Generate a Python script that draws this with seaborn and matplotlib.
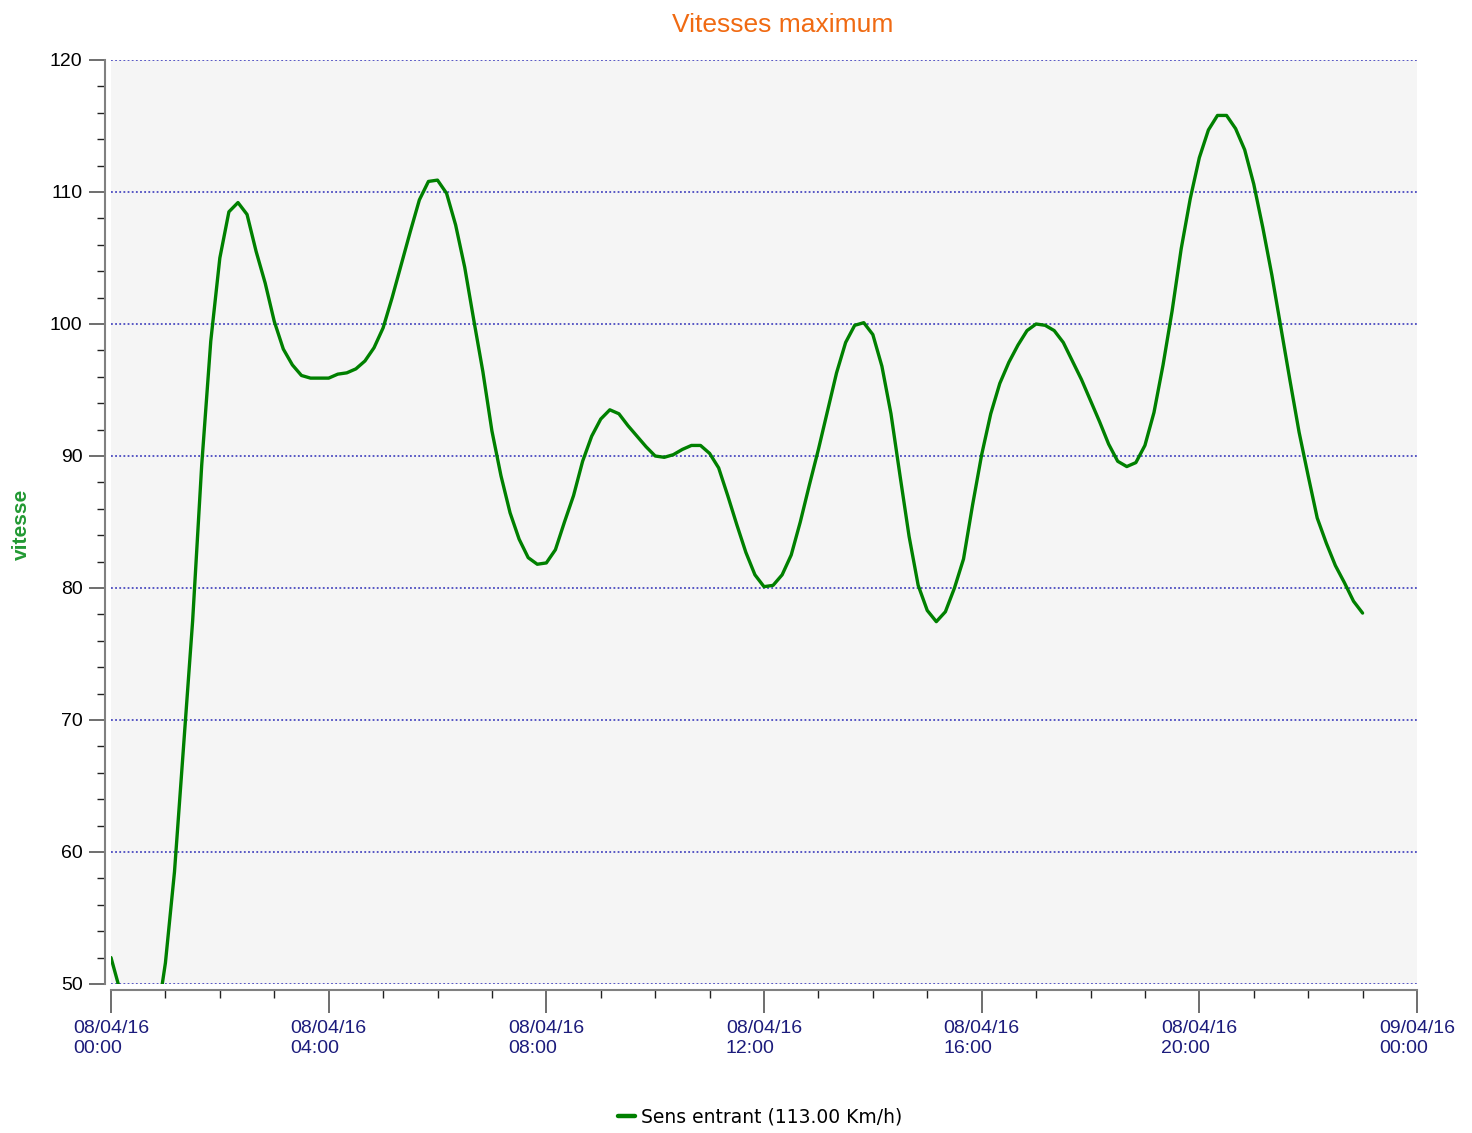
import matplotlib
matplotlib.use("Agg")
import matplotlib.pyplot as plt
import matplotlib.dates as mdates
from matplotlib.ticker import MultipleLocator
import pandas as pd
import seaborn as sns

# vitesse max par pas de 10 minutes, 08/04/16 00:00 -> 23:00
vitesse = [
    52.0, 49.5, 46.0, 44.0, 44.0, 47.0, 51.6, 58.5, 68.0, 77.5,
    89.3, 98.7, 105.0, 108.5, 109.2, 108.3, 105.5, 103.1, 100.2, 98.1,
    96.9, 96.1, 95.9, 95.9, 95.9, 96.2, 96.3, 96.6, 97.2, 98.2,
    99.7, 102.0, 104.5, 107.0, 109.4, 110.8, 110.9, 109.9, 107.5, 104.3,
    100.3, 96.4, 91.9, 88.5, 85.7, 83.7, 82.3, 81.8, 81.9, 82.9,
    85.0, 87.0, 89.6, 91.5, 92.8, 93.5, 93.2, 92.3, 91.5, 90.7,
    90.0, 89.9, 90.1, 90.5, 90.8, 90.8, 90.2, 89.1, 87.0, 84.8,
    82.7, 81.0, 80.1, 80.2, 81.0, 82.5, 85.0, 87.8, 90.5, 93.4,
    96.3, 98.6, 99.9, 100.1, 99.2, 96.8, 93.2, 88.5, 83.9, 80.2,
    78.3, 77.45, 78.2, 80.0, 82.2, 86.3, 90.1, 93.2, 95.5, 97.1,
    98.4, 99.5, 100.0, 99.9, 99.5, 98.6, 97.2, 95.8, 94.2, 92.6,
    90.9, 89.6, 89.2, 89.5, 90.8, 93.3, 96.9, 101.0, 105.7, 109.5,
    112.6, 114.7, 115.8, 115.8, 114.8, 113.2, 110.6, 107.3, 103.7, 99.7,
    95.7, 91.8, 88.5, 85.3, 83.4, 81.7, 80.4, 79.0, 78.1,
]
debut = "2016-04-08 00:00"
fin = "2016-04-09 00:00"
serie = "Sens entrant (113.00 Km/h)"

df = pd.DataFrame({
    "heure": pd.date_range(debut, periods=len(vitesse), freq="10min"),
    "vitesse": vitesse,
})

sns.set_style("white")
plt.rcParams["font.family"] = ["Liberation Sans", "DejaVu Sans"]
plt.rcParams["text.color"] = "black"

W, H = 1472, 1133
fig = plt.figure(figsize=(W / 100, H / 100), dpi=100)
ax = fig.add_axes([111 / W, 1 - 984 / H, (1417 - 111) / W, (984 - 60) / H])
ax.set_facecolor("#f5f5f5")

sns.lineplot(data=df, x="heure", y="vitesse", color="#008000", linewidth=2.4,
             label=serie, ax=ax)

ax.set_xlim(pd.Timestamp(debut), pd.Timestamp(fin))
ax.set_ylim(50, 120)

ax.yaxis.set_major_locator(MultipleLocator(10))
ax.yaxis.set_minor_locator(MultipleLocator(2))
ax.xaxis.set_major_locator(mdates.HourLocator(byhour=range(0, 24, 4)))
ax.xaxis.set_minor_locator(mdates.HourLocator())
ax.xaxis.set_major_formatter(mdates.DateFormatter("%d/%m/%y\n%H:%M"))

ax.grid(False)
ax.yaxis.grid(True, which="major", color="#4a4ac0", linestyle=(0, (1, 1.3)), linewidth=1.3)

for s in ["top", "right"]:
    ax.spines[s].set_visible(False)
ax.spines["left"].set_position(("outward", 4))
ax.spines["bottom"].set_position(("outward", 4.5))
for s in ["left", "bottom"]:
    ax.spines[s].set_color("#808080")
    ax.spines[s].set_linewidth(1.5)

ax.tick_params(which="both", bottom=True, left=True, direction="out")
ax.tick_params(axis="y", which="major", length=11.5, width=1.2, color="#555555",
               labelsize=14, labelcolor="black", pad=5)
ax.tick_params(axis="y", which="minor", length=5.8, width=1, color="#222222")
ax.tick_params(axis="x", which="major", length=16.5, width=1.2, color="#555555",
               labelsize=14, labelcolor="#1c1c7c", pad=5)
ax.tick_params(axis="x", which="minor", length=5.8, width=1, color="#222222")
for lab in ax.get_xticklabels():
    lab.set_multialignment("left")
    lab.set_linespacing(1.2)

ax.set_xlabel("")
ax.set_ylabel("vitesse", color="#229933", fontsize=15, fontweight="bold")
ax.yaxis.set_label_coords((31 - 111) / 1306, (984 - 524) / 924)

ax.text((783 - 111) / 1306, (984 - 25) / 924, "Vitesses maximum", transform=ax.transAxes,
        ha="center", va="center", fontsize=19, color="#f06a12")

leg = ax.legend(loc="center", bbox_to_anchor=((760 - 111) / 1306, (984 - 1117) / 924),
                frameon=False, handlelength=0.9, handletextpad=0.35,
                prop={"family": "DejaVu Sans", "size": 13.5})
for h in leg.get_lines():
    h.set_linewidth(3.2)
for t in leg.get_texts():
    t.set_color("black")

fig.savefig("out.png", dpi=100)
